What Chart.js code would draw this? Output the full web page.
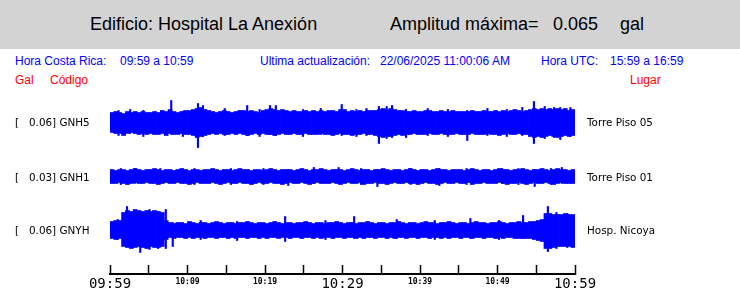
<!DOCTYPE html>
<html lang="es">
<head>
<meta charset="UTF-8">
<title>Hospital La Anexión</title>
<script src="https://cdn.jsdelivr.net/npm/chart.js"></script>
<style>
  body { margin:0; width:740px; height:288px; position:relative; background:#fff; overflow:hidden;
         font-family:"Liberation Sans", Arial, sans-serif; }
  .t { position:absolute; white-space:pre; }
  #head { position:absolute; left:0; top:0; width:740px; height:49px; background:#d3d3d3; }
  .big { font-size:18px; line-height:20px; top:14px; color:#000; }
  .blue { font-size:12px; line-height:14px; top:54px; color:#0000ff; }
  .red { font-size:12px; line-height:14px; top:73px; color:#ff0000; }
  .chan { font-family:"DejaVu Sans", sans-serif; font-size:10.4px; line-height:12px; color:#000; }
  #wrap { position:absolute; left:0; top:90px; width:740px; height:198px; }
</style>
</head>
<body>
<div id="head"></div>
<div class="t big" style="left:90px">Edificio: Hospital La Anexión</div>
<div class="t big" style="left:390px">Amplitud máxima=</div>
<div class="t big" style="left:553px">0.065</div>
<div class="t big" style="left:620px">gal</div>

<div class="t blue" style="left:15px">Hora Costa Rica:</div>
<div class="t blue" style="left:120px">09:59 a 10:59</div>
<div class="t blue" style="left:260px">Ultima actualización:</div>
<div class="t blue" style="left:380px">22/06/2025 11:00:06 AM</div>
<div class="t blue" style="left:541px">Hora UTC:</div>
<div class="t blue" style="left:610px">15:59 a 16:59</div>

<div class="t red" style="left:15px">Gal</div>
<div class="t red" style="left:50px">Código</div>
<div class="t red" style="left:630px">Lugar</div>

<div id="wrap"><canvas id="sismo" width="740" height="198"></canvas></div>

<script>
// estaciones
var codes = ['GNH5', 'GNH1', 'GNYH'];
var peaks = ['0.06', '0.03', '0.06'];
var places = ['Torre Piso 05', 'Torre Piso 01', 'Hosp. Nicoya'];

// eje de tiempo (minutos desde 09:59, una marca cada 5 min)
var tickLabels = ['09:59', '', '10:09', '', '10:19', '', '10:29', '', '10:39', '', '10:49', '', '10:59'];
var bucketMin = 0.5;

// envolvente por intervalo de 30 s: amplitud hacia arriba / hacia abajo
var gnh5Up = [10,11,10,9,11,10,11,10,11,10, 10,11,10,12,11,13,11,10,11,12, 12,13,14,15,13,12,11,10,11,12,
  11,10,11,12,12,11,12,11,10,12, 13,14,13,12,13,12,11,12,11,11, 12,11,12,11,12,11,12,12,11,13,
  13,11,12,11,12,11,12,12,12,13, 14,13,14,13,12,12,11,11,12,11, 11,12,12,11,11,12,11,11,12,11,
  11,11,11,12,11,11,12,11,11,12, 11,12,11,12,13,12,11,12,13,14, 13,14,13,14,13,14,13,14,12,13];
var gnh5Dn = [10,11,11,13,11,10,11,12,11,12, 11,12,12,11,13,11,12,12,11,12, 12,13,15,14,13,12,11,12,11,12,
  12,11,12,11,12,13,12,11,12,11, 12,12,13,12,11,12,12,11,12,12, 11,12,12,12,11,12,12,13,12,11,
  12,12,13,12,12,11,12,12,13,14, 15,14,14,13,12,13,12,12,11,12, 12,12,11,12,12,11,12,12,12,11,
  12,12,12,11,12,12,12,11,12,12, 13,12,11,12,12,11,12,12,14,15, 14,15,14,13,14,15,14,13,14,13];
var gnh1Up = [7,6,7,7,6,7,8,7,6,7, 7,8,7,6,7,7,6,7,8,7, 6,7,7,6,7,7,8,7,6,7, 7,6,7,8,7,7,6,7,7,6,
  7,8,7,6,7,7,7,6,7,8, 7,6,7,7,8,7,6,7,7,7, 6,7,8,7,6,7,7,6,7,7, 8,7,6,7,7,6,7,8,7,6,
  7,7,6,7,8,7,7,6,7,7, 7,6,7,8,7,6,7,7,6,7, 8,7,7,6,7,7,8,7,6,7, 7,8,7,6,7,8,7,7,6,7];
var gnh1Dn = [7,7,6,7,8,7,6,7,7,6, 7,7,8,7,6,7,7,6,7,7, 8,7,6,7,7,7,6,7,8,7, 6,7,7,6,7,7,8,7,6,7,
  7,6,7,7,8,7,6,7,7,6, 7,8,7,6,7,7,7,6,7,8, 7,6,7,7,6,8,7,7,6,7, 7,8,7,6,7,7,6,7,7,8,
  7,6,7,7,8,7,6,7,7,6, 7,7,6,8,7,7,6,7,7,7, 6,7,8,7,7,6,7,8,7,6, 7,7,6,7,8,7,6,7,7,7];
var gnyhUp = [9,10,10, 18,20,19,21,20,19,20,19,20,19,18, 10,
  8,7,8,8,7,9,8,7,8,8, 7,8,9,8,7,8,8,7,8,8, 9,8,7,8,8,7,8,9,8,7, 8,8,7,8,8,9,8,7,8,8,
  7,8,8,9,8,7,8,8,7,8, 8,9,8,7,8,8,7,8,8,9, 8,7,8,8,7,8,9,8,8,7, 8,8,9,8,7,8,8,7,8,9,
  8,8,7,8,8,9,8,7,8,8, 9,
  8,8,9,9,10,11, 17,17,16,16,16,17,16,16];
var gnyhDn = [8,9,8, 16,17,18,17,16,17,18,16,17,17,16, 9,
  7,8,7,7,8,7,8,7,7,8, 7,7,8,7,7,8,7,8,7,7, 8,7,7,8,7,8,7,7,8,7, 7,8,7,7,8,7,7,8,7,8,
  7,7,8,7,7,8,7,7,8,7, 8,7,7,8,7,7,8,7,8,7, 7,8,7,7,8,7,7,8,7,7, 8,7,8,7,7,8,7,7,8,7,
  7,8,7,7,8,7,8,7,7,8, 8,
  8,8,8,9,10,11, 18,18,17,16,16,16,16,17];

// picos aislados: [minuto, arriba, abajo]
var gnh5Spikes = [[1.1,12,13],[2.6,13,11],[4.3,12,14],[7.9,22,12],[9.4,11,14],[11.35,19,25],[12.0,17,14],
  [14.8,14,13],[17.7,17,13],[19.3,13,14],[20.65,17,12],[21.4,17,13],[24.9,13,14],[27.2,14,12],
  [29.9,18,13],[31.8,13,14],[33.1,14,13],[34.7,16,21],[35.7,16,16],[36.4,17,15],[38.2,13,15],
  [41.0,14,13],[43.6,13,14],[46.1,12,18],[48.7,14,13],[51.2,13,14],[53.2,15,13],[54.7,21,21],
  [56.1,16,16],[57.3,15,15],[58.1,15,17],[59.4,15,14]];
var gnh1Spikes = [[1.4,8,8],[3.2,8,7],[6.5,8,7],[10.9,8,8],[15.6,8,8],[19.8,8,8],[23.0,7,9],[26.3,9,7],
  [29.5,9,7],[32.4,8,8],[34.5,7,10],[38.8,8,8],[42.5,8,9],[46.0,8,8],[50.6,8,7],[52.7,8,8],
  [54.8,7,10],[56.9,8,8],[58.3,9,7]];
var gnyhSpikes = [[1.0,11,9],[2.2,24,12],[3.9,17,22],[5.1,21,19],[6.2,19,18],[7.2,21,18],[8.1,8,16],
  [11.7,10,9],[16.4,9,10],[22.6,14,11],[27.8,10,9],[31.5,14,8],[37.0,11,8],[41.9,10,9],[46.5,12,8],
  [50.2,10,9],[53.3,15,8],[56.5,24,21],[57.6,18,18],[59.0,17,17]];

var centers = [151.5, 97.5, 43.5];
var labelTops = [116, 171, 224];

codes.forEach(function(c, i) {
  var l = document.createElement('div');
  l.className = 't chan';
  l.style.left = '15px';
  l.style.top = labelTops[i] + 'px';
  l.textContent = '[   ' + peaks[i] + '] ' + c;
  document.body.appendChild(l);
  var r = document.createElement('div');
  r.className = 't chan';
  r.style.left = '587px';
  r.style.top = labelTops[i] + 'px';
  r.textContent = places[i];
  document.body.appendChild(r);
});

function envelope(up, dn, base) {
  return up.map(function(u, i) {
    return { x: (i + 0.5) * bucketMin, y: [base - dn[i], base + u] };
  });
}
function spikes(list, base) {
  return list.map(function(s) {
    return { x: s[0], y: [base - s[2], base + s[1]] };
  });
}

var ups = [gnh5Up, gnh1Up, gnyhUp];
var dns = [gnh5Dn, gnh1Dn, gnyhDn];
var spk = [gnh5Spikes, gnh1Spikes, gnyhSpikes];
var datasets = [];
for (var k = 0; k < 3; k++) {
  datasets.push({ label: codes[k], data: envelope(ups[k], dns[k], centers[k]),
    backgroundColor: '#0000ff', barThickness: 4, grouped: false, borderWidth: 0 });
  datasets.push({ label: codes[k] + ' picos', data: spikes(spk[k], centers[k]),
    backgroundColor: '#0000ff', barThickness: 1.5, grouped: false, borderWidth: 0 });
}

var ctx = document.getElementById('sismo').getContext('2d');
new Chart(ctx, {
  type: 'bar',
  data: { datasets: datasets },
  options: {
    responsive: false,
    animation: false,
    layout: { padding: { left: 110, right: 165, top: 0, bottom: 0 } },
    plugins: { legend: { display: false }, tooltip: { enabled: false } },
    scales: {
      x: {
        type: 'linear', min: 0, max: 60, offset: false,
        grid: { offset: false, drawOnChartArea: false, drawTicks: true, tickLength: -9,
                tickColor: '#000', tickWidth: 1.5 },
        border: { display: true, color: '#000', width: 2 },
        ticks: {
          stepSize: 5, autoSkip: false, maxRotation: 0, padding: 11, color: '#000',
          callback: function(v) { return tickLabels[Math.round(v / 5)]; },
          font: function(c) {
            var v = c.tick ? c.tick.value : 0;
            if (v % 30 === 0) return { family: 'DejaVu Sans Mono', size: 14, lineHeight: '16px' };
            return { family: 'DejaVu Sans Mono', size: 8, weight: 'bold', lineHeight: '12px' };
          }
        },
        afterFit: function(s) { s.height = 14; }
      },
      y: { display: false, min: 0, max: 184 }
    }
  }
});
</script>
</body>
</html>
